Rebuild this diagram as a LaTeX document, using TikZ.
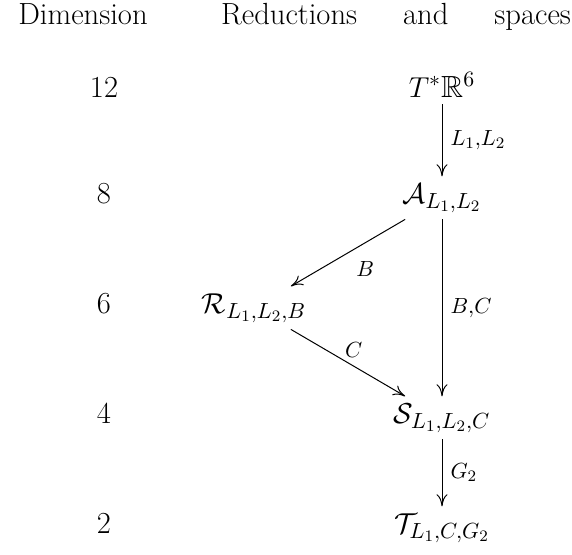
\documentclass[tikz,border=0pt]{standalone}
\usepackage{amssymb}
\usetikzlibrary{arrows.meta}

\begin{document}
\begin{tikzpicture}[x=0.5pt, y=-0.5pt,
    font=\fontsize{15.3}{18.4}\selectfont,
    heading/.style={anchor=base},
    dimnum/.style={anchor=base},
    space/.style={anchor=base},
    map/.style={-{To[length=6pt, width=5.5pt]}, line width=0.5pt},
    maplabel/.style={inner sep=4pt}]
  % coordinates are pixels of the reference, measured from the top left
  \useasboundingbox (0,0) rectangle (572,554);

  % column headings
  \node[heading] (dimhead) at (83,24) {Dimension};
  \node[heading] (redhead) at (396,24) {Reductions\hspace{23pt}and\hspace{23pt}spaces};

  % dimensions of the spaces, one per row
  \node[dimnum] (d12) at (104,97) {12};
  \node[dimnum] (d8) at (104,203) {8};
  \node[dimnum] (d6) at (104,313) {6};
  \node[dimnum] (d4) at (104,423) {4};
  \node[dimnum] (d2) at (104,533) {2};

  % the spaces
  \node[space] (cot) at (442,97) {$T^*\mathbb{R}^6$};
  \node[space] (alg) at (442,203) {$\mathcal{A}_{L_1,L_2}$};
  \node[space] (red) at (254,313) {$\mathcal{R}_{L_1,L_2,B}$};
  \node[space] (sym) at (442,423) {$\mathcal{S}_{L_1,L_2,C}$};
  \node[space] (tor) at (442,533) {$\mathcal{T}_{L_1,C,G_2}$};

  % the reductions
  \draw[map] (cot) -- node[maplabel, right] {$\scriptstyle L_1,L_2$} (alg);
  \draw[map] (alg) -- node[maplabel, below right] {$\scriptstyle B$} (red);
  \draw[map] (red) -- node[maplabel, above, pos=0.55] {$\scriptstyle C$} (sym);
  \draw[map] (alg) -- node[maplabel, right] {$\scriptstyle B,C$} (sym);
  \draw[map] (sym) -- node[maplabel, right] {$\scriptstyle G_2$} (tor);
\end{tikzpicture}
\end{document}
